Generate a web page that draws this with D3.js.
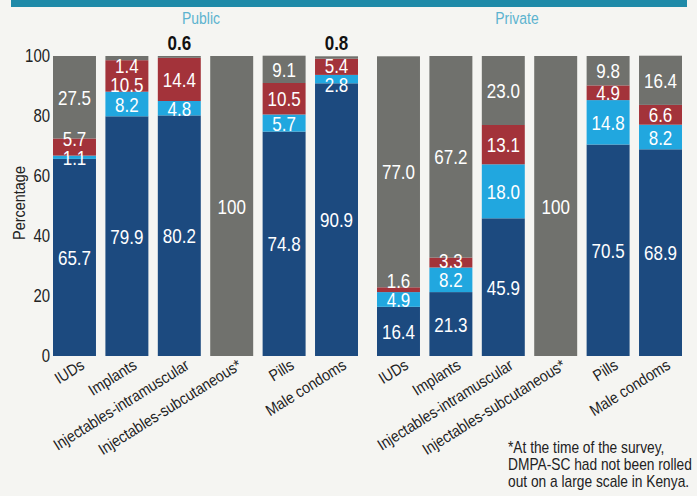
<!DOCTYPE html>
<html>
<head>
<meta charset="utf-8">
<script src="https://cdn.jsdelivr.net/npm/d3@7"></script>
<style>
  body { margin: 0; background: #f5f5f2; }
  svg { display: block; }
  text { font-family: "Liberation Sans", Arial, sans-serif; }
</style>
</head>
<body>
<script>
//data
var methods = ["IUDs", "Implants", "Injectables-intramuscular", "Injectables-subcutaneous*", "Pills", "Male condoms"];
var sectors = ["Public", "Private"];
var segments = ["s1", "s2", "s3", "s4"];   // bottom to top
var yTicks = [0, 20, 40, 60, 80, 100];

var publicS1 = [65.7, 79.9, 80.2, 0, 74.8, 90.9];
var publicS2 = [1.1, 8.2, 4.8, 0, 5.7, 2.8];
var publicS3 = [5.7, 10.5, 14.4, 0, 10.5, 5.4];
var publicS4 = [27.5, 1.4, 0.6, 100, 9.1, 0.8];

var privateS1 = [16.4, 21.3, 45.9, 0, 70.5, 68.9];
var privateS2 = [4.9, 8.2, 18.0, 0, 14.8, 8.2];
var privateS3 = [1.6, 3.3, 13.1, 0, 4.9, 6.6];
var privateS4 = [77.0, 67.2, 23.0, 100, 9.8, 16.4];

var footnote = ["*At the time of the survey,", "DMPA-SC had not been rolled", "out on a large scale in Kenya."];

var colorMap = {s1: "#1c4a7f", s2: "#21a7df", s3: "#a3333a", s4: "#70716d"};

var width = 697, height = 496;

var svg = d3.select("body").append("svg")
    .attr("width", width)
    .attr("height", height);

//condensed look: squeeze text horizontally
function label(parent, x, y, txt, size, sx, extra){
    return parent.append("text")
        .attr("transform", "translate(" + x + "," + y + ")" + (extra || "") + " scale(" + sx + ",1)")
        .style("font-size", size + "px")
        .text(txt);
}

//teal band cut at the top
svg.append("rect")
    .attr("x", 11).attr("y", 0)
    .attr("width", 676).attr("height", 7)
    .style("fill", "#1f8aa8");

var y = d3.scaleLinear().domain([0, 100]).range([356, 56]);

var groups = [
    {name: sectors[0], cols: [publicS1, publicS2, publicS3, publicS4], range: [53, 358], titleX: 201},
    {name: sectors[1], cols: [privateS1, privateS2, privateS3, privateS4], range: [377, 682], titleX: 517}
];

//y axis labels
yTicks.forEach(function(t){
    label(svg, 50, y(t) + 6, t, 18, 0.83)
        .attr("text-anchor", "end")
        .style("fill", "#222");
});

label(svg, 25, y(51), "Percentage", 17, 0.85, " rotate(-90)")
    .attr("text-anchor", "middle")
    .style("fill", "#222");

var labelH = 19;

groups.forEach(function(g){

    var x = d3.scaleBand().domain(methods).range(g.range).paddingInner(0.18).paddingOuter(0);

    label(svg, g.titleX, 24, g.name, 17, 0.82)
        .attr("text-anchor", "middle")
        .style("fill", "#5cb3cf");

    var rows = methods.map(function(m, i){
        var row = {method: m};
        segments.forEach(function(s, k){ row[s] = g.cols[k][i]; });
        return row;
    });

    var stack = d3.stack().keys(segments)(rows);

    var layer = svg.append("g").selectAll("g")
        .data(stack)
        .enter()
        .append("g")
        .style("fill", function(d){return colorMap[d.key];});

    layer.selectAll("rect")
        .data(function(d){return d;})
        .enter()
        .append("rect")
        .attr("x", function(d){return x(d.data.method);})
        .attr("y", function(d){return y(d[1]);})
        .attr("width", x.bandwidth())
        .attr("height", function(d){return y(d[0]) - y(d[1]);});

    //value labels, centred in segments and pushed apart when they crowd
    rows.forEach(function(row, i){
        var items = [];
        var above = null;
        stack.forEach(function(ser){
            var d = ser[i];
            var v = d[1] - d[0];
            if(v <= 0) return;
            if(v < 1 && d[1] > 99){ above = v; return; }
            items.push({v: v, cy: y((d[0] + d[1]) / 2)});
        });
        for(var k = 1; k < items.length; k++){
            if(items[k].cy > items[k-1].cy - labelH) items[k].cy = items[k-1].cy - labelH;
        }
        var topLimit = y(100) + labelH / 2;
        if(items.length && items[items.length-1].cy < topLimit){
            items[items.length-1].cy = topLimit;
            for(var k = items.length - 2; k >= 0; k--){
                if(items[k].cy < items[k+1].cy + labelH) items[k].cy = items[k+1].cy + labelH;
            }
        }
        var cx = x(row.method) + x.bandwidth() / 2;
        items.forEach(function(it){
            label(svg, cx, it.cy + 7.5, it.v === 100 ? "100" : d3.format(".1f")(it.v), 20, 0.85)
                .attr("text-anchor", "middle")
                .style("fill", "#fff");
        });
        if(above !== null){
            label(svg, cx, y(100) - 6, d3.format(".1f")(above), 20, 0.85)
                .attr("text-anchor", "middle")
                .style("font-weight", "bold")
                .style("fill", "#111");
        }
    });

    //category labels
    methods.forEach(function(m){
        label(svg, x(m) + x.bandwidth() / 2 + 11, 368, m, 16, 0.88, " rotate(-32)")
            .attr("text-anchor", "end")
            .style("fill", "#222");
    });
});

footnote.forEach(function(line, i){
    label(svg, 508, 453 + i * 17, line, 16, 0.86)
        .style("fill", "#222");
});
</script>
</body>
</html>
